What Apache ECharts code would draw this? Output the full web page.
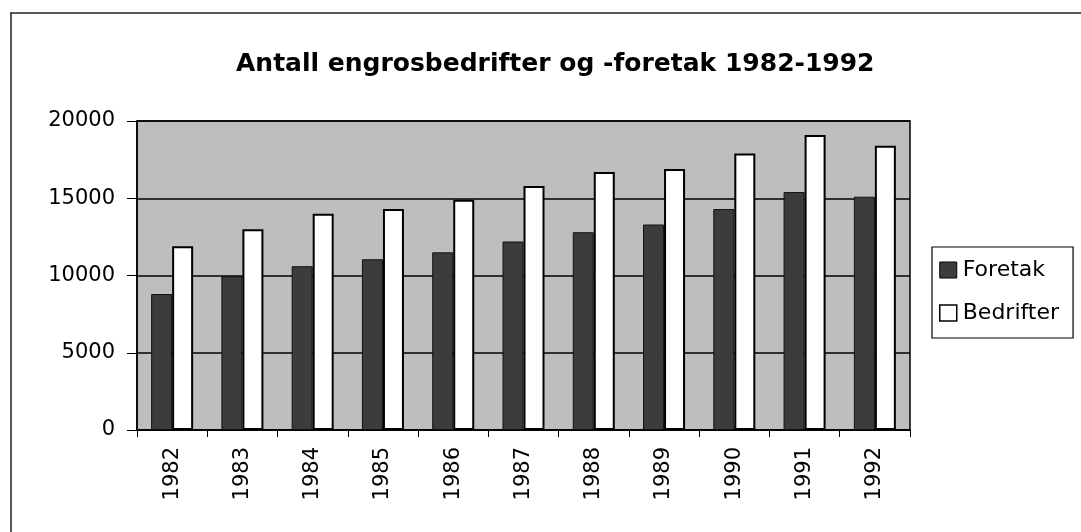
<!DOCTYPE html>
<html><head><meta charset="utf-8">
<script src="https://cdn.jsdelivr.net/npm/echarts@6/dist/echarts.min.js"></script>
<style>html,body{margin:0;padding:0;background:#fff}#c{width:1081px;height:532px}</style>
</head><body><div id="c"></div>
<script>
const categories = ['1982','1983','1984','1985','1986','1987','1988','1989','1990','1991','1992'];
const foretak = [8800, 9950, 10600, 11050, 11500, 12200, 12800, 13300, 14300, 15400, 15100];
const bedrifter = [11900, 13000, 14000, 14300, 14900, 15800, 16700, 16900, 17900, 19100, 18400];
const yTicks = [0, 5000, 10000, 15000, 20000];

const chart = echarts.init(document.getElementById('c'));
const font = '"DejaVu Sans", sans-serif';
chart.setOption({
  animation: false,
  backgroundColor: '#fff',
  title: {
    text: 'Antall engrosbedrifter og -foretak 1982-1992',
    left: 231, top: 47,
    textStyle: {fontFamily: font, fontSize: 25, fontWeight: 'bold', color: '#000'}
  },
  graphic: [
    {type: 'line', shape: {x1: 10, y1: 13, x2: 1081, y2: 13}, style: {stroke: '#222', lineWidth: 1.5}},
    {type: 'line', shape: {x1: 11, y1: 13, x2: 11, y2: 532}, style: {stroke: '#222', lineWidth: 1.5}}
  ],
  legend: {
    orient: 'vertical', left: 932, top: 247,
    padding: [12, 14, 14, 7], itemGap: 21,
    borderColor: '#000', borderWidth: 1.2, backgroundColor: '#fff',
    itemWidth: 17, itemHeight: 16,
    textStyle: {fontFamily: font, fontSize: 22, color: '#000', padding: [0,0,0,1]},
    data: [
      {name: 'Foretak', icon: 'rect', itemStyle: {color: '#3c3c3c', borderColor: '#000', borderWidth: 1}},
      {name: 'Bedrifter', icon: 'rect', itemStyle: {color: '#fff', borderColor: '#000', borderWidth: 1.5}}
    ]
  },
  grid: {
    left: 137, right: 171, top: 121, bottom: 102,
    show: true, backgroundColor: '#bebebe', borderColor: '#000', borderWidth: 1.5
  },
  xAxis: {
    type: 'category', data: categories,
    axisLine: {lineStyle: {color: '#000', width: 1.5}},
    axisTick: {show: true, length: 7, lineStyle: {color: '#000', width: 1}},
    axisLabel: {rotate: 90, fontFamily: font, fontSize: 21, color: '#000', margin: 17}
  },
  yAxis: {
    type: 'value', min: yTicks[0], max: yTicks[yTicks.length-1], interval: 5000,
    axisLine: {show: true, lineStyle: {color: '#000', width: 1.5}},
    axisTick: {show: true, length: 10, lineStyle: {color: '#000'}},
    splitLine: {lineStyle: {color: '#000', width: 1.5}},
    axisLabel: {fontFamily: font, fontSize: 21, color: '#000', margin: 22, formatter: v => String(v)}
  },
  series: [
    {name: 'Foretak', type: 'bar', data: foretak, barWidth: 21, barGap: '0%',
     itemStyle: {color: '#3c3c3c', borderColor: '#111', borderWidth: 1}},
    {name: 'Bedrifter', type: 'bar', data: bedrifter, barWidth: 21,
     itemStyle: {color: '#fff', borderColor: '#000', borderWidth: 2}}
  ]
});
</script></body></html>
